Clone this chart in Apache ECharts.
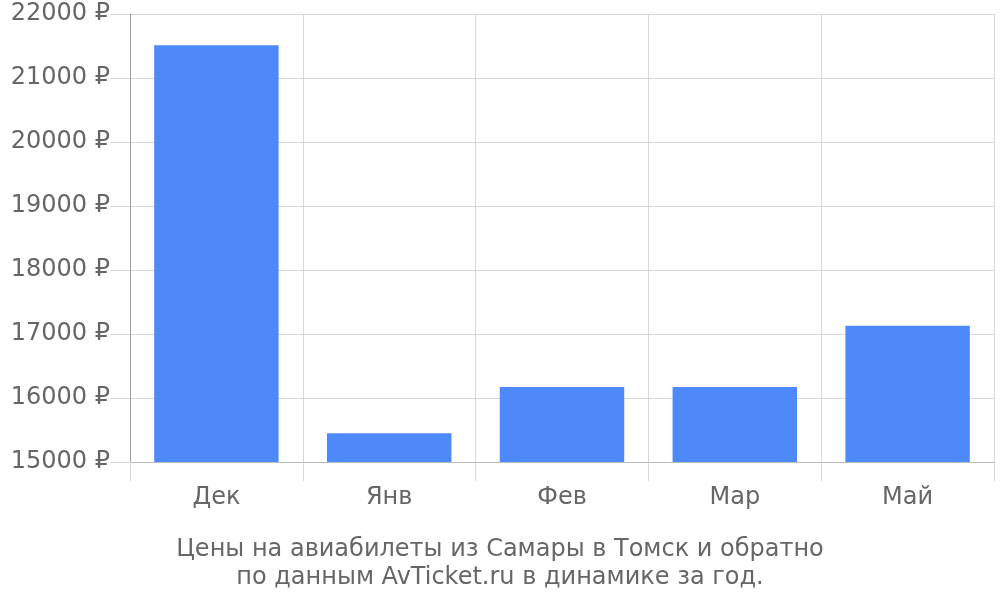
<!DOCTYPE html>
<html><head><meta charset="utf-8">
<script src="https://cdn.jsdelivr.net/npm/echarts@6/dist/echarts.min.js"></script>
<style>html,body{margin:0;padding:0;background:#fff}#c{width:1000px;height:600px}</style>
</head><body><div id="c"></div>
<script>
const categories = ['Дек', 'Янв', 'Фев', 'Мар', 'Май'];
const prices = [21510, 15450, 16170, 16170, 17130];
const yMin = 15000, yMax = 22000, yStep = 1000;
const titleText = 'Цены на авиабилеты из Самары в Томск и обратно\nпо данным AvTicket.ru в динамике за год.';

const chart = echarts.init(document.getElementById('c'), null, {renderer: 'canvas'});
const font = 'DejaVu Sans';
chart.setOption({
  animation: false,
  backgroundColor: '#fff',
  textStyle: {fontFamily: font},
  title: {
    text: titleText, left: 'center', top: 531,
    textStyle: {fontFamily: font, fontSize: 24, fontWeight: 'normal', color: '#666', lineHeight: 28, align: 'center'}
  },
  grid: {left: 130, right: 6, top: 14, bottom: 138, containLabel: false},
  xAxis: {
    type: 'category', data: categories, boundaryGap: true,
    axisLine: {show: true, lineStyle: {color: '#bbb', width: 1}},
    axisTick: {show: true, length: 19, lineStyle: {color: '#d8d8d8'}},
    splitLine: {show: true, lineStyle: {color: '#d8d8d8'}},
    axisLabel: {color: '#666', fontSize: 24, fontFamily: font, margin: 24}
  },
  yAxis: {
    type: 'value', min: yMin, max: yMax, interval: yStep,
    axisLine: {show: true, lineStyle: {color: '#a0a0a0'}},
    axisTick: {show: true, length: 20, lineStyle: {color: '#d8d8d8'}},
    splitLine: {show: true, lineStyle: {color: '#d8d8d8'}},
    axisLabel: {color: '#666', fontSize: 24, fontFamily: font, margin: 20, padding: [6, 0, 0, 0], formatter: v => v + ' ₽'}
  },
  series: [{
    type: 'bar', data: prices, barWidth: '72%',
    itemStyle: {color: '#4d89f9'}
  }]
});
</script></body></html>
